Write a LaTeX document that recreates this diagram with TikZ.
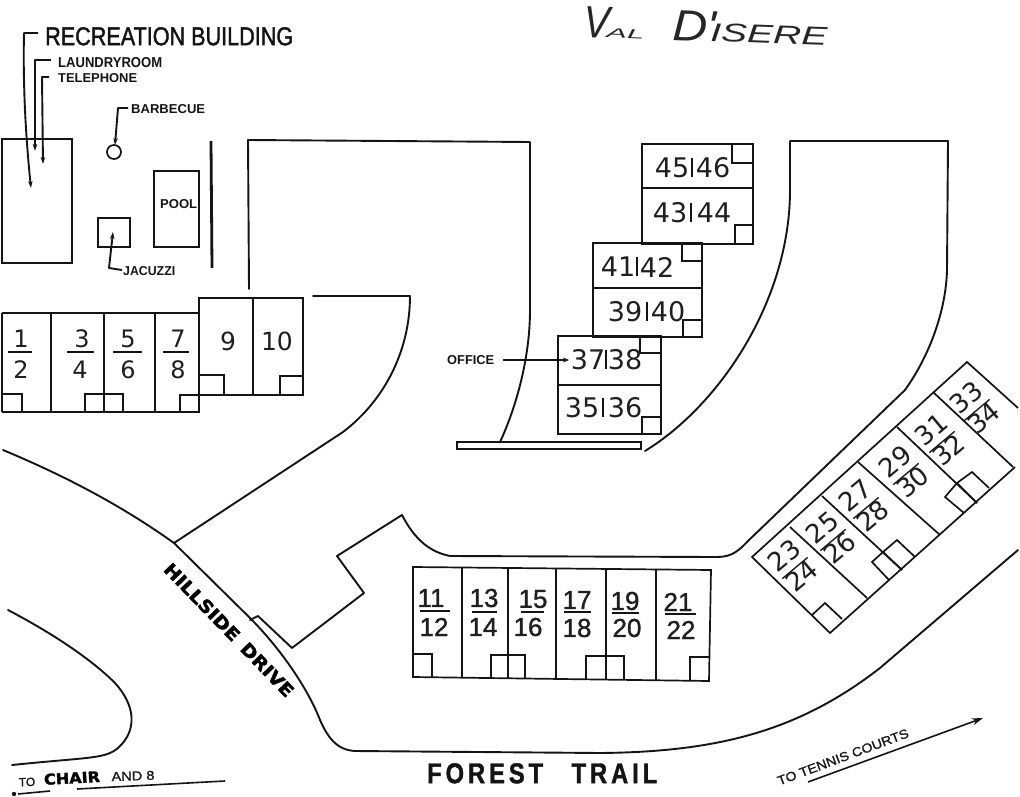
\documentclass[tikz,border=0pt]{standalone}
\usepackage{fontspec}
\usepackage{graphicx}
\usepackage{array}
\usetikzlibrary{arrows.meta}
\setmainfont{Liberation Sans}
\newfontfamily\djv{DejaVu Sans}
\newfontfamily\hvn{Liberation Sans}[FakeBold=1.2]
\newfontfamily\hvm{Liberation Sans}[FakeBold=1.8]
\newfontfamily\hvs{Liberation Sans Bold}
\newfontfamily\hvb{Liberation Sans Bold}[FakeBold=1.5]
\newfontfamily\handf{DejaVu Sans Bold}[FakeBold=2]
\newfontfamily\scrp{Liberation Sans Italic}
\newcommand\fsz[1]{\fontsize{#1}{#1}\selectfont}
\tikzset{
  x=1pt,y=-1pt,
  wall/.style={line width=1.7pt,black!92,line join=miter},
  road/.style={line width=1.9pt,black!92,line cap=round,line join=round},
  heavy/.style={line width=2.8pt,black!92},
  lead/.style={line width=1.9pt,black!92,line join=round},
  ltip/.style={lead,-{Stealth[length=7pt,width=4.5pt]}},
  lab/.style={inner sep=0pt,anchor=north west,text=black!92},
  num/.style={inner sep=0pt,text=black!88},
}
% exact-size caption: x y width height text
\newcommand\capt[5]{\node[lab] (#5) at (#1,#2) {\resizebox{#3pt}{#4pt}{\hvs #5}};}
% stacked number: xn yn n, x1 x2 ybar, xd yd d
\newcommand\stkn[9]{%
  \node[num,font=\stkfont] at (#1,#2) {#3};
  \draw[line width=1.6pt,black!92] (#4,#6) -- (#5,#6);
  \node[num,font=\stkfont] at (#7,#8) {#9};}
\newcommand\stkfont{\djv\fsz{24}}
% diagonal stacked number
\newcommand\dgn[4]{\node[num,rotate=40,font=\djv\fsz{26}] (d#3) at (#1,#2) {%
  \def\arraystretch{.85}\setlength\arrayrulewidth{1.4pt}\setlength\tabcolsep{0pt}%
  \begin{tabular}{c}#3\\\hline #4\end{tabular}};}
% block label
\newcommand\blkn[6]{%
  \node[num,font=\djv\fsz{27}] at (#1,#3) {#2};
  \draw[line width=1.8pt,black!92] (#4,#3-10) -- (#4,#3+9);
  \node[num,font=\djv\fsz{27}] at (#5,#3) {#6};}
\begin{document}
\begin{tikzpicture}
\useasboundingbox (0,0) rectangle (1020,797);
\fill[white] (0,0) rectangle (1020,797);

% title
\node[inner sep=0pt,anchor=base west,rotate=-2,text=black!85] (title) at (583,37) {\scrp
  \resizebox{26pt}{31pt}{V}\hspace{-3pt}\resizebox{38pt}{9pt}{AL}\hspace{28pt}\resizebox{44pt}{30pt}{D'}\hspace{-6pt}\resizebox{117pt}{18pt}{ISERE}};

% recreation area
\draw[wall] (2,139) rectangle (72,263);
\draw[wall] (114,152) circle (7pt);
\draw[wall] (154,171) rectangle (199,247);
\draw[wall] (98,218) rectangle (130,247);
\draw[heavy] (211,141) -- (212,268);
\node[lab] (RECREATION BUILDING) at (45,27) {\resizebox{248pt}{18pt}{\hvm RECREATION BUILDING}};
\capt{58}{57}{104}{10}{LAUNDRYROOM}
\capt{58}{73}{79}{9}{TELEPHONE}
\capt{131}{104}{74}{9}{BARBECUE}
\capt{160}{199}{37}{9}{POOL}
\capt{123}{266}{52}{9}{JACUZZI}
\capt{447}{355}{47}{9}{OFFICE}
\draw[ltip] (38,33) -- (24,33) .. controls (23,80) and (25,130) .. (31,188);
\draw[ltip] (51,60) -- (35,60) -- (35,151);
\draw[ltip] (49,77) -- (42,77) -- (43,164);
\draw[ltip] (128,108) -- (118,108) -- (115,145);
\draw[ltip] (122,270) -- (109,268) -- (113,232);
\draw[line width=1.9pt,black!92] (503,360) -- (557,360);
\draw[line width=1.9pt,black!92,-{Stealth[length=6pt,width=5pt]}] (557,360) -- (569,360);

% drives and curbs
\draw[road] (249,289) -- (248,140) -- (530,142) -- (530,310)
  .. controls (530,360) and (515,410) .. (500,442);
\draw[road] (645,451) .. controls (720,405) and (790,300) .. (790,190) -- (790,141) -- (948,141)
  -- (947,270) .. controls (946,310) and (930,355) .. (905,390)
  -- (748,541) .. controls (735,555) and (728,557) .. (715,557)
  -- (450,556) .. controls (430,552) and (415,540) .. (402,515)
  -- (337,556) -- (364,593) -- (292,648) -- (258,616) -- (250,620);
\draw[road] (174,543) -- (343,432) .. controls (385,400) and (410,350) .. (410,296) -- (313,296);
\draw[road] (3,450) .. controls (70,478) and (125,508) .. (174,543)
  -- (250,618) .. controls (275,643) and (303,680) .. (318,715)
  .. controls (327,738) and (337,750) .. (355,751)
  -- (600,753) .. controls (720,752) and (800,730) .. (880,668) -- (1018,550);
\draw[road] (8,610) .. controls (50,632) and (90,658) .. (115,683)
  .. controls (135,705) and (138,730) .. (118,748)
  .. controls (105,759) and (90,757) .. (12,765);
\draw[wall] (457,442) rectangle (641,449);

% units 1-10
\draw[wall] (2,313) -- (199,313) -- (199,412) -- (2,412);
\draw[wall] (2,313) -- (2,412);
\foreach \x in {51,104,155} \draw[wall] (\x,313) -- (\x,412);
\draw[wall] (199,298) rectangle (303,395);
\draw[wall] (253,298) -- (253,395);
\draw[wall] (2,394) -- (22,394) -- (22,412);
\draw[wall] (85,412) -- (85,394) -- (104,394);
\draw[wall] (104,394) -- (123,394) -- (123,412);
\draw[wall] (180,412) -- (180,395) -- (199,395);
\draw[wall] (199,375) -- (224,375) -- (224,395);
\draw[wall] (280,395) -- (280,376) -- (303,376);
\stkn{21}{339}{1}{8}{32}{352}{21}{370}{2}
\stkn{82}{339}{3}{67}{94}{352}{80}{370}{4}
\stkn{128}{339}{5}{113}{142}{352}{128}{370}{6}
\stkn{178}{339}{7}{163}{189}{352}{178}{370}{8}
\node[num,font=\djv\fsz{25}] (u9) at (228,341) {9};
\node[num,font=\djv\fsz{25}] (u10) at (277,341) {10};

% units 11-22
\draw[wall] (413,567) -- (711,570) -- (709,681) -- (413,677) -- cycle;
\foreach \a/\b/\c in {462/568/678,508/568/678,556/569/679,606/569/680,656/570/680}
  \draw[wall] (\a,\b) -- (\a,\c);
\draw[wall] (413,654) -- (432,654) -- (432,677);
\draw[wall] (491,678) -- (491,655) -- (508,655);
\draw[wall] (508,655) -- (525,655) -- (525,678);
\draw[wall] (586,679) -- (586,656) -- (606,656);
\draw[wall] (606,656) -- (624,656) -- (624,679);
\draw[wall] (690,680) -- (690,657) -- (709,657);
\renewcommand\stkfont{\hvn\fsz{26}}
\stkn{431}{598}{11}{420}{450}{611}{434}{627}{12}
\stkn{484}{598}{13}{472}{497}{612}{483}{627}{14}
\stkn{533}{599}{15}{521}{544}{612}{528}{627}{16}
\stkn{577}{600}{17}{564}{591}{612}{577}{628}{18}
\stkn{625}{601}{19}{612}{639}{613}{627}{628}{20}
\stkn{678}{602}{21}{665}{696}{614}{681}{630}{22}

% block 35-46
\draw[wall] (642,144) rectangle (753,244);
\draw[wall] (642,188) -- (753,188);
\draw[wall] (732,144) -- (732,163) -- (753,163);
\draw[wall] (735,244) -- (735,225) -- (753,225);
\draw[wall] (593,243) rectangle (702,337);
\draw[wall] (593,288) -- (702,288);
\draw[wall] (682,243) -- (682,261) -- (702,261);
\draw[wall] (683,337) -- (683,320) -- (702,320);
\draw[wall] (558,336) rectangle (661,434);
\draw[wall] (558,385) -- (661,385);
\draw[wall] (640,336) -- (640,353) -- (661,353);
\draw[wall] (642,434) -- (642,417) -- (661,417);
\blkn{672}{45}{168}{692}{713}{46}
\blkn{670}{43}{213}{691}{714}{44}
\blkn{618}{41}{267}{637}{657}{42}
\blkn{625}{39}{312}{647}{668}{40}
\blkn{588}{37}{360}{606}{625}{38}
\blkn{582}{35}{408}{603}{625}{36}

% units 23-34
\draw[wall] (1018,408) -- (967,362) -- (752,557) -- (830,633) -- (1015,467);
\draw[wall] (790,527) -- (867,598);
\draw[wall] (822,496) -- (902,570);
\draw[wall] (858,462) -- (940,535);
\draw[wall] (897,427) -- (977,503);
\draw[wall] (933,392) -- (1013,467);
\draw[wall] (812,615) -- (825,603) -- (842,619);
\draw[wall] (889,580) -- (872,562) -- (883,552) -- (897,540) -- (915,557);
\draw[wall] (883,552) -- (902,570);
\draw[wall] (964,513) -- (945,497) -- (957,483) -- (972,472) -- (989,488);
\draw[wall] (957,483) -- (977,503);
\dgn{795}{568}{23}{24}
\dgn{833}{540}{25}{26}
\dgn{866}{508}{27}{28}
\dgn{906}{474}{29}{30}
\dgn{942}{442}{31}{32}
\dgn{977}{410}{33}{34}

% road names
\node[inner sep=0pt,rotate=-46,text=black] (hillside) at (229,630)
  {\resizebox{178pt}{13pt}{\handf HILLSIDE\hspace{.5em}DRIVE}};
\node[lab] (forest) at (427,763) {\resizebox{230pt}{20pt}{\hvb F\,O\,R\,E\,S\,T\hspace{1.2em}T\,R\,A\,I\,L}};
\node[inner sep=0pt,rotate=2,text=black!90] (to) at (27,782) {\hvn\fsz{12}TO};
\node[inner sep=0pt,rotate=3,text=black] (chair) at (72,778) {\resizebox{56pt}{11pt}{\handf CHAIR}};
\node[inner sep=0pt,rotate=2,text=black!90] (and) at (133,776) {\resizebox{43pt}{9pt}{\hvn AND 8}};
\draw[line width=1.6pt,black!92] (77,789) -- (225,781);
\draw[line width=1.6pt,black!92] (50,791) -- (18,794);
\fill[black!92] (14,794) circle (2.2pt);

\node[inner sep=0pt,rotate=20.5,text=black!90] (tennis) at (843,757) {\resizebox{139pt}{9pt}{\hvn TO TENNIS COURTS}};
\draw[line width=1.6pt,black!92,-{Stealth[length=11pt,width=7pt]}] (808,782) -- (983,718);
\end{tikzpicture}
\end{document}
